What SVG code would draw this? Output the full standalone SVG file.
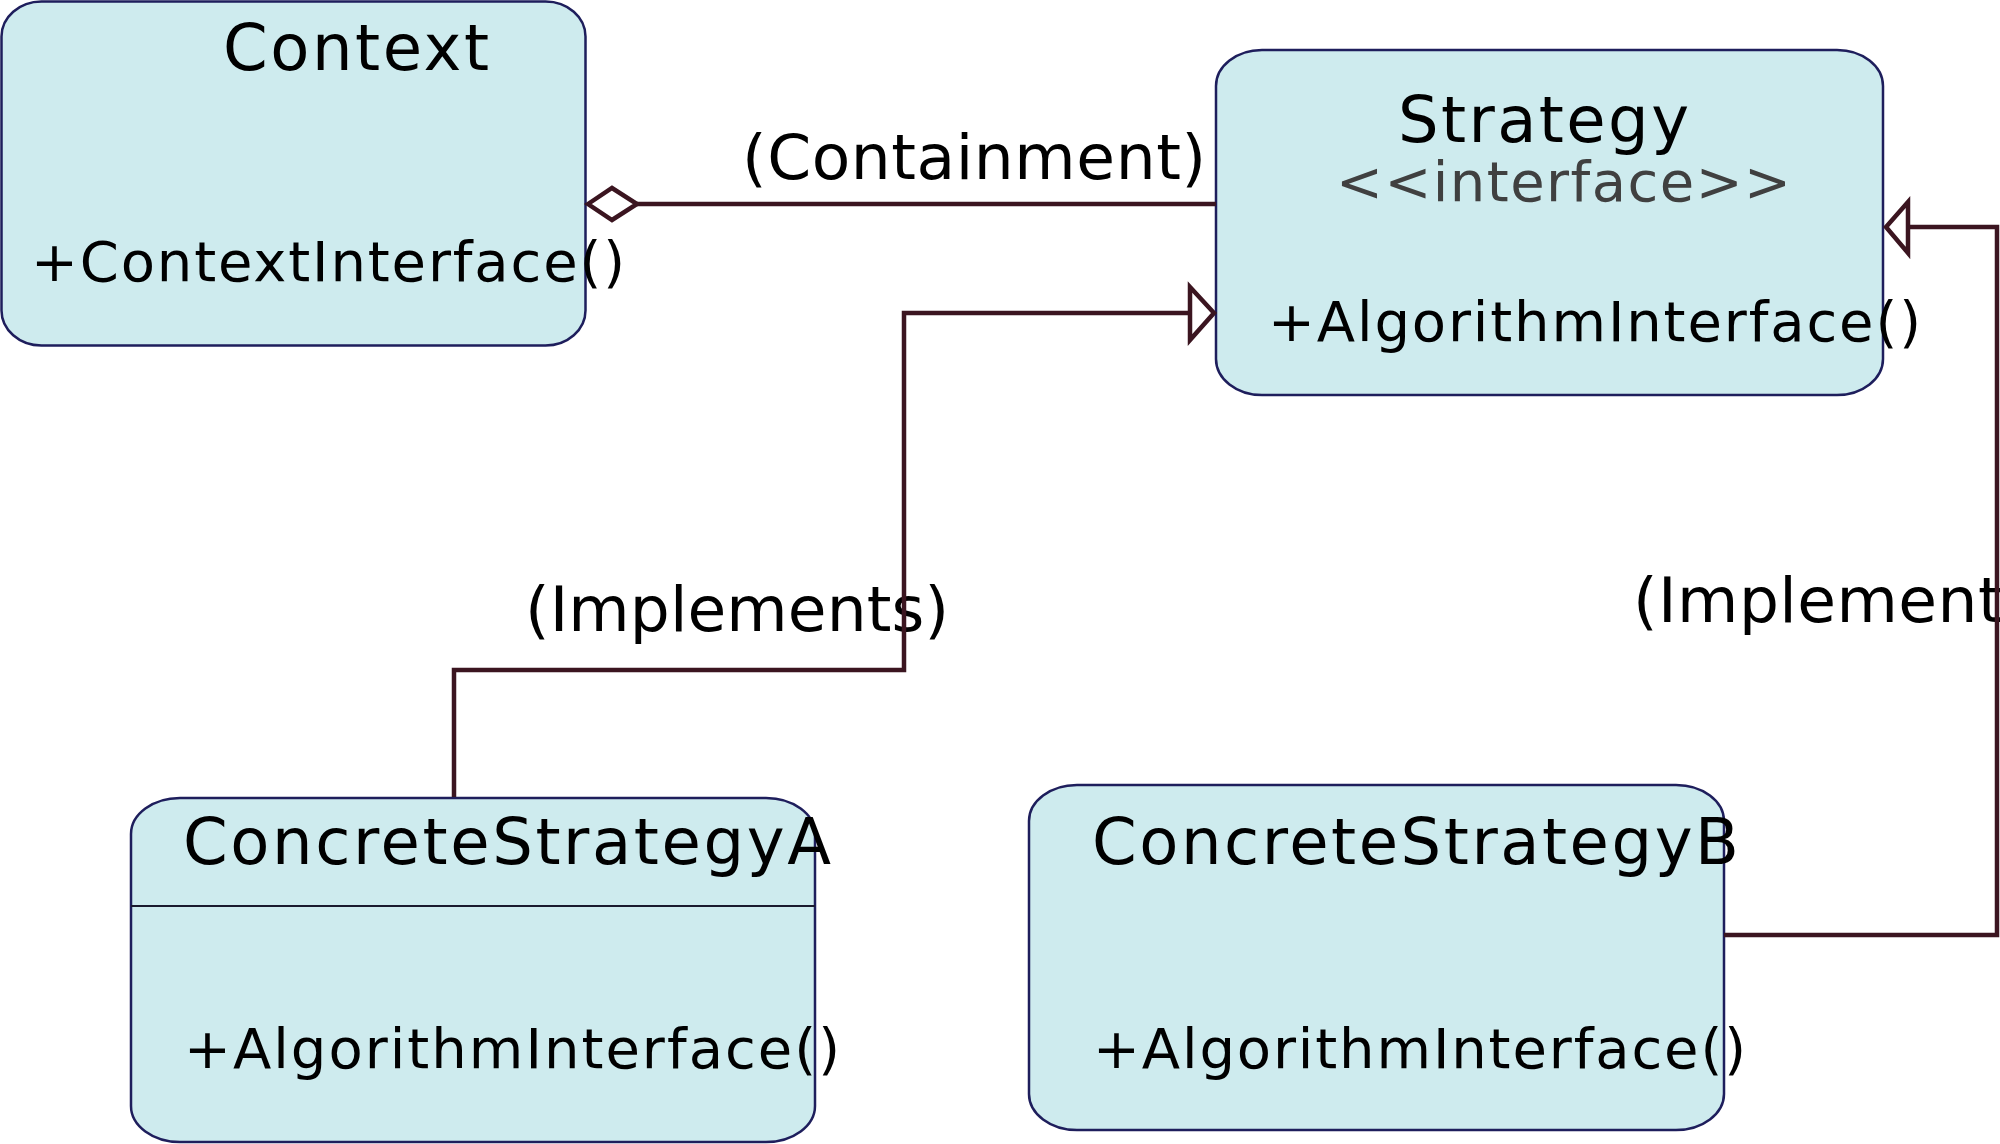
<svg xmlns="http://www.w3.org/2000/svg" width="2000" height="1144" viewBox="0 0 2000 1144">
<style>
.box{fill:#ceebee;stroke:#1e1e5c;stroke-width:2.5}
.t{font-family:"DejaVu Sans",sans-serif;fill:#000}
.title{font-size:64px}
.mem{font-size:56px}
.lab{font-size:63px}
.ster{font-size:56px;fill:#404040}
.conn{fill:none;stroke:#3b1520;stroke-width:4.5}
.head{fill:#fff;stroke:#3b1520;stroke-width:4.5}
</style>
<rect width="2000" height="1144" fill="#fff"/>
<g id="node-context">
<rect class="box" x="1.5" y="1.5" width="584" height="344" rx="40" ry="35"/>
<text class="t title" x="223" y="70" textLength="266" lengthAdjust="spacing">Context</text>
<text class="t mem" x="31" y="281" textLength="594" lengthAdjust="spacing">+ContextInterface()</text>
</g>
<g id="node-strategy">
<rect class="box" x="1216" y="50" width="667" height="345" rx="46" ry="36"/>
<text class="t title" x="1398" y="142" textLength="291" lengthAdjust="spacing">Strategy</text>
<text class="t ster" x="1336" y="201" textLength="455" lengthAdjust="spacing">&lt;&lt;interface&gt;&gt;</text>
<text class="t mem" x="1268" y="341" textLength="653" lengthAdjust="spacing">+AlgorithmInterface()</text>
</g>
<g id="node-concrete-a">
<rect class="box" x="131" y="798" width="684" height="344" rx="49" ry="36"/>
<line x1="131" y1="906" x2="815" y2="906" stroke="#1a1a2e" stroke-width="2"/>
<text class="t title" x="183" y="864" textLength="648" lengthAdjust="spacing">ConcreteStrategyA</text>
<text class="t mem" x="184" y="1068" textLength="656" lengthAdjust="spacing">+AlgorithmInterface()</text>
</g>
<g id="node-concrete-b">
<rect class="box" x="1029" y="785" width="695" height="345" rx="48" ry="36"/>
<text class="t title" x="1092" y="864" textLength="647" lengthAdjust="spacing">ConcreteStrategyB</text>
<text class="t mem" x="1093" y="1068" textLength="653" lengthAdjust="spacing">+AlgorithmInterface()</text>
</g>
<g id="labels">
<text class="t lab" x="742" y="179" textLength="464" lengthAdjust="spacing">(Containment)</text>
<text class="t lab" x="525" y="631" textLength="424" lengthAdjust="spacing">(Implements)</text>
<text class="t lab" x="1633" y="622" textLength="428" lengthAdjust="spacing">(Implements)</text>
</g>
<g id="connectors">
<line class="conn" x1="637" y1="204" x2="1216" y2="204"/>
<polygon class="head" points="588,204 612,188 637,204 612,220"/>
<polyline class="conn" points="454,797 454,670 904,670 904,313 1190,313"/>
<polygon class="head" points="1190,287 1214,313 1190,340"/>
<polyline class="conn" points="1724,935 1997,935 1997,227 1908,227"/>
<polygon class="head" points="1908,202 1886,227 1908,253"/>
</g>
</svg>
